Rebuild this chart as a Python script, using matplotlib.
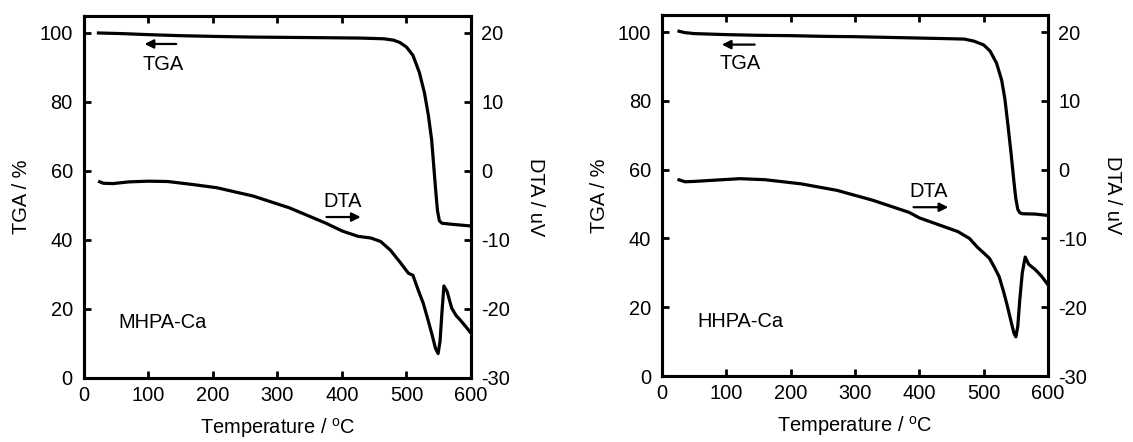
import matplotlib
matplotlib.use("Agg")
import matplotlib.pyplot as plt

plt.rcParams['font.family'] = ['Liberation Sans', 'DejaVu Sans']
plt.rcParams['mathtext.fontset'] = 'custom'
plt.rcParams['mathtext.rm'] = 'Liberation Sans'
plt.rcParams['axes.unicode_minus'] = False

# ---- MHPA-Ca ----
mhpa_tga_t = [20, 60, 100, 150, 200, 260, 320, 380, 430, 465, 480, 490, 500, 510,
              520, 528, 534, 539, 542, 545, 548, 551, 555, 570, 600]
mhpa_tga = [100.0, 99.8, 99.5, 99.2, 99.0, 98.8, 98.7, 98.6, 98.5, 98.3, 97.9, 97.2,
            95.9, 93.5, 88.5, 82.5, 76.0, 69.0, 62.0, 55.0, 48.5, 45.5, 44.8, 44.5, 44.0]
mhpa_dta_t = [22, 30, 45, 70, 100, 130, 170, 206, 262, 318, 374, 401, 425, 445, 460,
              475, 490, 503, 510, 518, 526, 533, 539, 545, 549, 552, 555, 558, 563,
              570, 577, 583, 592, 600]
mhpa_dta = [-1.5, -1.8, -1.85, -1.6, -1.5, -1.55, -2.0, -2.45, -3.65, -5.35, -7.55,
            -8.75, -9.5, -9.75, -10.25, -11.5, -13.25, -14.85, -15.15, -17.25, -19.2,
            -21.5, -23.55, -25.75, -26.5, -24.75, -20.5, -16.7, -17.5, -19.9, -21.0,
            -21.6, -22.6, -23.55]

# ---- HHPA-Ca ----
hhpa_tga_t = [24, 35, 50, 100, 150, 200, 250, 300, 350, 400, 450, 470, 485, 500, 510,
              520, 528, 533, 538, 543, 547, 550, 553, 556, 560, 580, 600]
hhpa_tga = [100.4, 99.9, 99.6, 99.3, 99.1, 99.0, 98.8, 98.7, 98.5, 98.3, 98.1, 98.0,
            97.4, 96.3, 94.5, 91.0, 86.0, 80.5, 72.5, 64.0, 56.5, 51.5, 48.5, 47.5,
            47.2, 47.1, 46.7]
hhpa_dta_t = [24, 36, 50, 76, 121, 160, 216, 272, 328, 384, 400, 439, 460, 478, 490,
              500, 509, 517, 524, 531, 537, 543, 547, 550, 553, 556, 560, 564.5, 570,
              581, 590, 600]
hhpa_dta = [-1.4, -1.75, -1.7, -1.55, -1.3, -1.45, -2.05, -3.0, -4.45, -6.2, -7.0,
            -8.3, -9.0, -10.0, -11.25, -12.1, -12.9, -14.25, -15.55, -17.75, -19.9,
            -22.25, -23.75, -24.3, -22.75, -19.0, -15.0, -12.7, -13.75, -14.6, -15.5,
            -16.75]

x_ticks = [0, 100, 200, 300, 400, 500, 600]
tga_ticks = [0, 20, 40, 60, 80, 100]
dta_ticks = [-30, -20, -10, 0, 10, 20]

panels = [
    dict(rect=[0.0741, 0.1455, 0.3416, 0.819], tga_t=mhpa_tga_t, tga=mhpa_tga,
         dta_t=mhpa_dta_t, dta=mhpa_dta, name="MHPA-Ca",
         tga_lab=(122, 90.8), tga_arrow=((143, 96.8), (94, 96.8)),
         dta_lab=(401, 51.2), dta_arrow=((376, 46.6), (429, 46.6)),
         name_pos=(122, 16.1)),
    dict(rect=[0.5843, 0.1493, 0.3407, 0.8167], tga_t=hhpa_tga_t, tga=hhpa_tga,
         dta_t=hhpa_dta_t, dta=hhpa_dta, name="HHPA-Ca",
         tga_lab=(122, 90.9), tga_arrow=((144, 96.4), (93, 96.4)),
         dta_lab=(415, 53.8), dta_arrow=((391, 49.1), (445, 49.1)),
         name_pos=(122, 16.0)),
]

fs = 14.4
lw = 2.3

fig = plt.figure(figsize=(11.33, 4.42), dpi=100)

for p in panels:
    ax = fig.add_axes(p["rect"])
    ax2 = ax.twinx()

    ax.plot(p["tga_t"], p["tga"], color="black", lw=lw, solid_capstyle="butt")
    ax2.plot(p["dta_t"], p["dta"], color="black", lw=lw, solid_capstyle="butt")

    ax.set_xlim(0, 600)
    ax.set_ylim(0, 105)
    ax2.set_ylim(-30, 22.5)
    ax.set_xticks(x_ticks)
    ax.set_yticks(tga_ticks)
    ax2.set_yticks(dta_ticks)

    ax.tick_params(axis="x", direction="in", top=True, bottom=True, length=5,
                   width=2.0, labelsize=fs, pad=6)
    ax.tick_params(axis="y", direction="in", left=True, right=False, length=5,
                   width=2.0, labelsize=fs, pad=8)
    ax2.tick_params(axis="y", direction="in", right=True, left=False, length=5,
                    width=2.0, labelsize=fs, pad=7.5)

    for a in (ax, ax2):
        for s in a.spines.values():
            s.set_linewidth(2.2)

    ax.set_xlabel(r"Temperature / $^{\rm o}$C", fontsize=fs, labelpad=8)
    ax.set_ylabel("TGA / %", fontsize=fs, labelpad=6)
    ax2.set_ylabel("DTA / uV", fontsize=fs, rotation=270, labelpad=25)

    ax.text(*p["tga_lab"], "TGA", fontsize=fs, ha="center", va="center")
    ax.text(*p["dta_lab"], "DTA", fontsize=fs, ha="center", va="center")
    ax.text(*p["name_pos"], p["name"], fontsize=fs, ha="center", va="center")
    for (start, end) in (p["tga_arrow"], p["dta_arrow"]):
        ax.annotate("", xy=end, xytext=start,
                    arrowprops=dict(arrowstyle="-|>", color="black", lw=1.6,
                                    mutation_scale=13, shrinkA=0, shrinkB=0))

fig.savefig("out.png", dpi=100)
